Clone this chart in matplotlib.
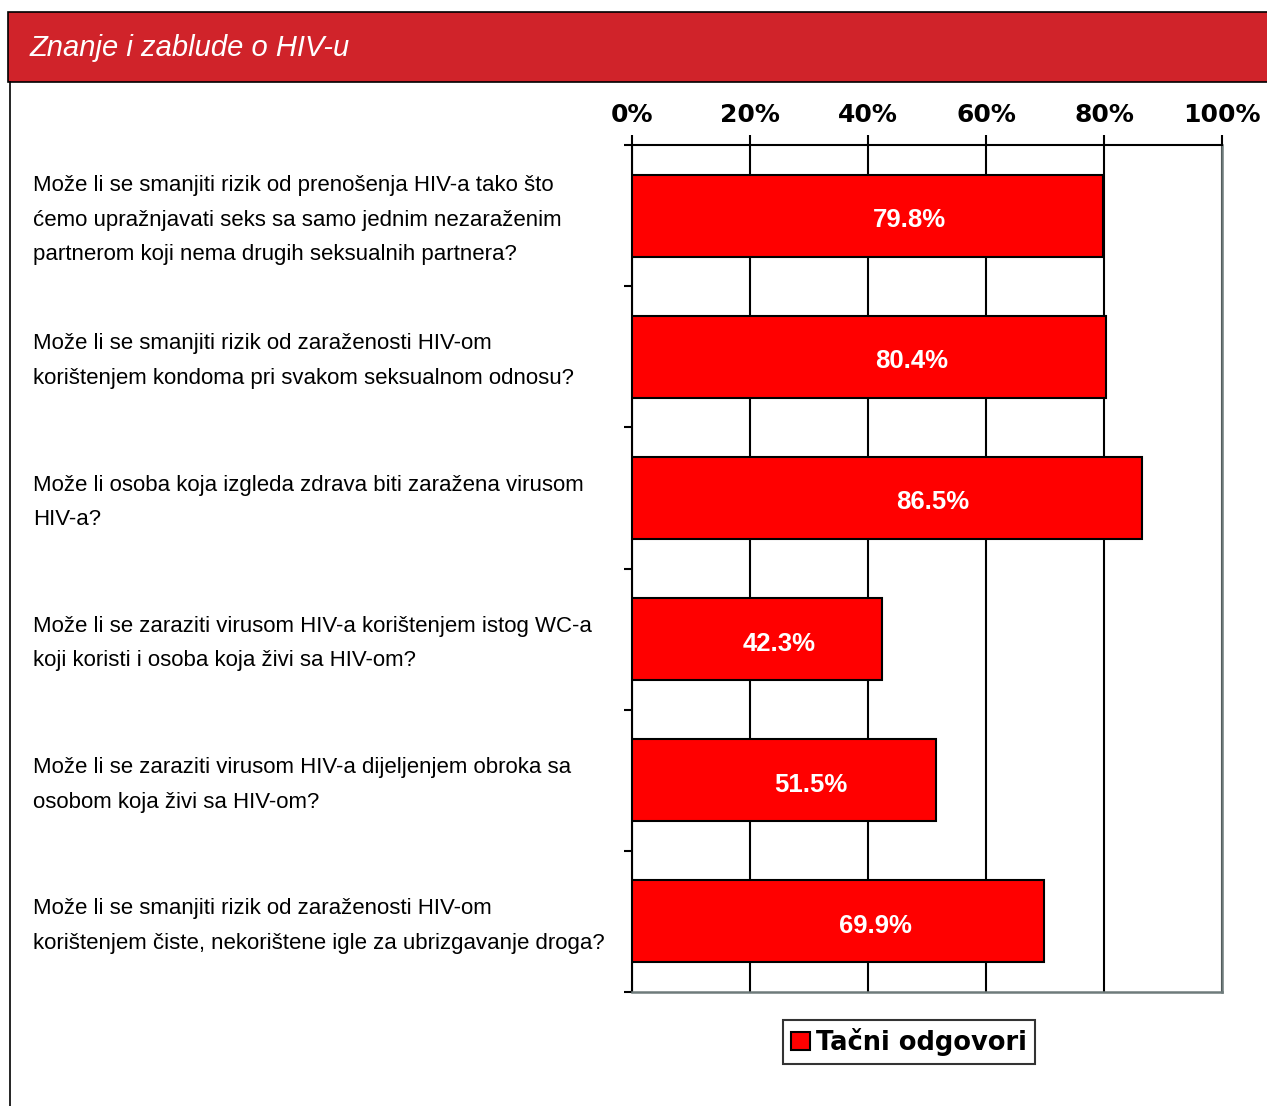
import matplotlib.pyplot as plt
from matplotlib.patches import Rectangle
from matplotlib.lines import Line2D
import matplotlib.transforms as mtransforms

# DATA
questions = [
    'Može li se smanjiti rizik od prenošenja HIV-a tako što\n'
    'ćemo upražnjavati seks sa samo jednim nezaraženim\n'
    'partnerom koji nema drugih seksualnih partnera?',
    'Može li se smanjiti rizik od zaraženosti HIV-om\n'
    'korištenjem kondoma pri svakom seksualnom odnosu?',
    'Može li osoba koja izgleda zdrava biti zaražena virusom\n'
    'HIV-a?',
    'Može li se zaraziti virusom HIV-a korištenjem istog WC-a\n'
    'koji koristi i osoba koja živi sa HIV-om?',
    'Može li se zaraziti virusom HIV-a dijeljenjem obroka sa\n'
    'osobom koja živi sa HIV-om?',
    'Može li se smanjiti rizik od zaraženosti HIV-om\n'
    'korištenjem čiste, nekorištene igle za ubrizgavanje droga?',
]
correct = [79.8, 80.4, 86.5, 42.3, 51.5, 69.9]
xticks = [0, 20, 40, 60, 80, 100]
title = 'Znanje i zablude o HIV-u'
legend_label = 'Tačni odgovori'

RED = '#FF0000'
BANNER = '#D0232A'
GREY = '#6E7B7B'
sans = ['Liberation Sans', 'DejaVu Sans']

W, H = 1267, 1106
fig = plt.figure(figsize=(W / 100, H / 100), dpi=100)

# title banner + left frame line
fig.patches.append(Rectangle((8 / W, 1 - 82 / H), 1.0, 70 / H, transform=fig.transFigure,
                             facecolor=BANNER, edgecolor='black', lw=1.2, zorder=0))
fig.lines.append(Line2D([9.5 / W, 9.5 / W], [0, 1 - 82 / H], transform=fig.transFigure,
                        color='black', lw=1.2))
fig.text(30 / W, 1 - 48 / H, title, color='white', fontsize=21, style='italic',
         family=sans, va='center', ha='left')

ax = fig.add_axes([632 / W, 1 - 992 / H, 590 / W, 847 / H])
ypos = list(range(len(correct)))
bars = ax.barh(ypos, correct, height=0.58, color=RED, edgecolor='black', lw=1.5, zorder=3,
               label=legend_label)

ax.set_xlim(0, 100)
ax.set_ylim(len(correct) - 0.5, -0.5)
ax.set_xticks(xticks)
ax.set_xticklabels([f'{t}%' for t in xticks], fontsize=18, fontweight='bold',
                   family='DejaVu Sans')
ax.xaxis.tick_top()
ax.tick_params(axis='x', direction='out', length=7, width=1.5, pad=6)
ax.set_yticks([i - 0.5 for i in range(len(correct) + 1)])
ax.set_yticklabels([])
ax.tick_params(axis='y', direction='out', length=6, width=1.5)
ax.grid(axis='x', color='black', lw=1.5, zorder=1)

for side in ('top', 'left'):
    ax.spines[side].set_color('black')
    ax.spines[side].set_linewidth(1.5)
for side in ('bottom', 'right'):
    ax.spines[side].set_color(GREY)
    ax.spines[side].set_linewidth(1.8)

# small downward nudge so text sits like the original
nudge = mtransforms.ScaledTranslation(0, -4.5 / 100, fig.dpi_scale_trans)

# value labels inside bars
for y, v in zip(ypos, correct):
    ax.text(v * 0.59, y, f'{v:.1f}%', color='white', fontsize=18.5, fontweight='bold',
            family=sans, ha='center', va='center', zorder=4,
            transform=ax.transData + nudge)

# question labels on the left
trans = mtransforms.blended_transform_factory(fig.transFigure, ax.transData) + nudge
for y, q in zip(ypos, questions):
    ax.text(33 / W, y, q, transform=trans, fontsize=16, family=sans, ha='left',
            va='center', linespacing=1.85, clip_on=False)

leg = fig.legend(handles=[bars], labels=[legend_label], loc='center',
                 bbox_to_anchor=(909 / W, 1 - 1042 / H), fancybox=False, frameon=True,
                 edgecolor='black', handlelength=0.75, handleheight=0.75, handletextpad=0.25,
                 borderpad=0.3, prop={'family': 'DejaVu Sans', 'weight': 'bold', 'size': 18.5})
leg.get_frame().set_linewidth(1.5)

fig.savefig('out.png', dpi=100)
